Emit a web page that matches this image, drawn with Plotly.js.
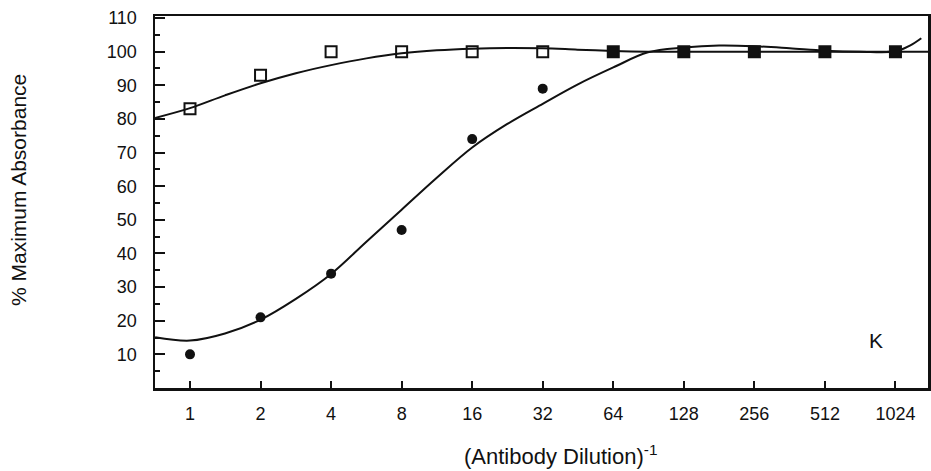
<!DOCTYPE html>
<html>
<head>
<meta charset="utf-8">
<script src="https://cdn.plot.ly/plotly-3.0.1.min.js"></script>
<style>html,body{margin:0;padding:0;background:#fff;}#chart{width:931px;height:471px;}</style>
</head>
<body>
<div id="chart"></div>
<script>
// Dilution categories (reciprocal)
const dilutions = [1, 2, 4, 8, 16, 32, 64, 128, 256, 512, 1024];
const tickLabels = ["1", "2", "4", "8", "16", "32", "64", "128", "256", "512", "1024"];
// Measured points (% maximum absorbance)
const squareValues = [83, 93, 100, 100, 100, 100, 100, 100, 100, 100, 100];
const squareSymbols = ["square-open", "square-open", "square-open", "square-open", "square-open", "square-open", "square", "square", "square", "square", "square"];
const circleValues = [10, 21, 34, 47, 74, 89, 100, 100, 100, 100, 100];
// Fitted curves
const upperCurveX = [0.71, 1, 1.41, 2, 2.83, 4, 5.66, 8, 11.3, 16, 22.6, 32, 45, 64, 90, 128, 256, 512, 1024, 1410];
const upperCurveY = [80.3, 83.2, 87.0, 90.6, 93.6, 96.0, 98.0, 99.5, 100.4, 100.9, 101.1, 101.0, 100.6, 100.2, 100.0, 100.0, 100.0, 100.0, 100.0, 100.0];
const lowerCurveX = [0.71, 1, 1.41, 2, 2.83, 4, 5.66, 8, 11.3, 16, 22.6, 32, 45, 64, 90, 128, 181, 256, 362, 512, 724, 1024, 1180, 1320];
const lowerCurveY = [15.1, 14.1, 16.2, 20.3, 26.5, 33.9, 43.5, 53.0, 62.5, 71.5, 78.5, 84.5, 90.2, 95.3, 99.8, 101.2, 101.8, 101.6, 101.0, 100.3, 100.0, 100.1, 101.8, 104.0];

const ink = "#111";
const traces = [
  {x: upperCurveX, y: upperCurveY, mode: "lines", line: {color: ink, width: 2, shape: "spline", smoothing: 1}, hoverinfo: "skip", showlegend: false},
  {x: lowerCurveX, y: lowerCurveY, mode: "lines", line: {color: ink, width: 2, shape: "spline", smoothing: 1}, hoverinfo: "skip", showlegend: false},
  {x: dilutions, y: circleValues, mode: "markers", marker: {symbol: "circle", size: 10, color: ink}, showlegend: false},
  {x: dilutions, y: squareValues, mode: "markers", marker: {symbol: squareSymbols, size: 11, color: ink, line: {color: ink, width: 2}}, showlegend: false}
];

const font = "Liberation Sans, Arial, Helvetica, sans-serif";
const layout = {
  width: 931, height: 471,
  margin: {l: 155, r: 3, t: 16, b: 83},
  paper_bgcolor: "#fff", plot_bgcolor: "#fff",
  font: {family: font, color: ink, size: 18},
  showlegend: false,
  xaxis: {
    type: "log", range: [Math.log10(0.709), Math.log10(1410)],
    tickmode: "array", tickvals: dilutions, ticktext: tickLabels,
    ticks: "inside", ticklen: 7, tickwidth: 2, tickcolor: ink,
    showline: true, linewidth: 2.5, linecolor: ink, mirror: true,
    showgrid: false, zeroline: false,
    tickfont: {size: 18, family: font, color: ink},
    ticklabelstandoff: 8
  },
  yaxis: {
    range: [0, 110.6],
    tickmode: "array", tickvals: [10, 20, 30, 40, 50, 60, 70, 80, 90, 100, 110],
    ticks: "inside", ticklen: 10, tickwidth: 2, tickcolor: ink,
    minor: {tickmode: "array", tickvals: [5, 15, 25, 35, 45, 55, 65, 75, 85, 95, 105], ticks: "inside", ticklen: 5, tickwidth: 2, tickcolor: ink, showgrid: false},
    showline: true, linewidth: 2.5, linecolor: ink, mirror: true,
    showgrid: false, zeroline: false,
    tickfont: {size: 18, family: font, color: ink},
    ticklabelstandoff: 12
  },
  annotations: [
    {text: "% Maximum Absorbance", xref: "paper", yref: "paper", x: (18 - 155) / 773, y: (388 - 190) / 372, textangle: -90, showarrow: false, font: {size: 21, family: font, color: ink}, xanchor: "center", yanchor: "middle"},
    {text: "(Antibody Dilution)<sup>-1</sup>", xref: "paper", yref: "paper", x: (560 - 155) / 773, y: (388 - 455) / 372, showarrow: false, font: {size: 22, family: font, color: ink}, xanchor: "center", yanchor: "middle"},
    {text: "K", xref: "paper", yref: "paper", x: (876 - 155) / 773, y: (388 - 340) / 372, showarrow: false, font: {size: 21, family: font, color: ink}, xanchor: "center", yanchor: "middle"}
  ]
};
Plotly.newPlot("chart", traces, layout, {displayModeBar: false, staticPlot: true});
</script>
</body>
</html>
